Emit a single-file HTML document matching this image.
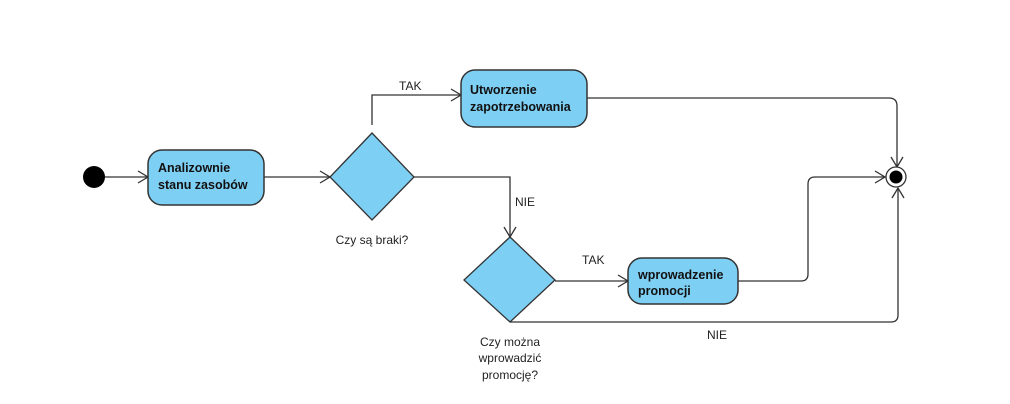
<!DOCTYPE html>
<html><head><meta charset="utf-8"><style>
html,body{margin:0;padding:0;background:#fff;width:1010px;height:404px;overflow:hidden}
text{font-family:"Liberation Sans",sans-serif;font-size:12px;fill:#222}
.b{font-weight:bold;font-size:12.5px;fill:#111}
</style></head><body>
<svg width="1010" height="404" viewBox="0 0 1010 404" xmlns="http://www.w3.org/2000/svg">
<g fill="none" stroke="#333" stroke-width="1.3">
<!-- start -> box1 -->
<line x1="104" y1="177" x2="148" y2="177"/>
<polyline points="138,171 148,177 138,183"/>
<!-- box1 -> diamond1 -->
<line x1="264" y1="177" x2="330" y2="177"/>
<polyline points="320,171 330,177 320,183"/>
<!-- TAK up -->
<polyline points="372,125 372,95 461,95"/>
<polyline points="451,89 461,95 451,101"/>
<!-- box2 -> end -->
<path d="M587,98 H889 Q897,98 897,106 V167"/>
<polyline points="891,157 897,167 903,157"/>
<!-- NIE -->
<polyline points="414,177 510,177 510,237"/>
<polyline points="504,227 510,237 516,227"/>
<!-- TAK 2 -->
<line x1="555" y1="281" x2="628" y2="281"/>
<polyline points="618,275 628,281 618,287"/>
<!-- box3 -> end -->
<path d="M738,281 H801 Q808,281 808,274 V184 Q808,177 815,177 H885"/>
<polyline points="875,171 885,177 875,183"/>
<!-- NIE bottom -->
<path d="M510,322 H891 Q898,322 898,315 V188"/>
<polyline points="892,198 898,188 904,198"/>
</g>
<circle cx="94" cy="177" r="11" fill="#000"/>
<circle cx="896" cy="177" r="10" fill="#fff" stroke="#333" stroke-width="1.3"/>
<circle cx="896" cy="177" r="6.5" fill="#000"/>
<rect x="148" y="150" width="116" height="55" rx="14" fill="#7ecff4" stroke="#333" stroke-width="1.5"/>
<rect x="461" y="70" width="126" height="57" rx="14" fill="#7ecff4" stroke="#333" stroke-width="1.5"/>
<rect x="628" y="258" width="110" height="46" rx="14" fill="#7ecff4" stroke="#333" stroke-width="1.5"/>
<polygon points="372,133 414,177 372,220 330,177" fill="#7ecff4" stroke="#333" stroke-width="1.3"/>
<polygon points="510,237 555,280 510,322 464,280" fill="#7ecff4" stroke="#333" stroke-width="1.3"/>
<text class="b" x="158" y="172">Analizownie</text>
<text class="b" x="158" y="189">stanu zasobów</text>
<text class="b" x="470" y="94">Utworzenie</text>
<text class="b" x="470" y="111">zapotrzebowania</text>
<text class="b" x="638" y="279">wprowadzenie</text>
<text class="b" x="638" y="295">promocji</text>
<text x="399" y="90">TAK</text>
<text x="515" y="206">NIE</text>
<text x="582" y="264">TAK</text>
<text x="707" y="339">NIE</text>
<text x="372" y="244" text-anchor="middle">Czy są braki?</text>
<text x="510" y="346" text-anchor="middle">Czy można</text>
<text x="510" y="362" text-anchor="middle">wprowadzić</text>
<text x="510" y="379" text-anchor="middle">promocję?</text>
</svg>
</body></html>
